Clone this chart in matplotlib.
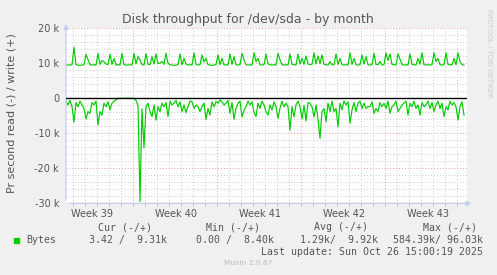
import numpy as np
import matplotlib
matplotlib.use("Agg")
import matplotlib.pyplot as plt

# ---- data (k bytes/s, 4-hour steps) ----
write_k = [9.6, 9.5, 9.5, 9.6, 14.6, 9.6, 9.5, 9.4, 9.5, 9.6,
           12.6, 11.0, 9.6, 9.5, 9.6, 9.5, 12.8, 9.7, 10.8, 10.4,
           9.8, 9.6, 12.6, 9.7, 11.4, 9.5, 9.6, 9.5, 12.8, 9.6,
           9.5, 9.5, 9.6, 9.5, 12.8, 9.8, 11.9, 11.0, 9.6, 9.5,
           12.8, 9.7, 9.6, 11.9, 9.8, 12.66, 9.9, 10.1, 10.5, 9.7,
           12.85, 10.0, 9.6, 9.5, 9.4, 9.5, 9.6, 12.66, 9.6, 11.4,
           9.8, 9.5, 9.6, 9.5, 13.0, 9.7, 9.5, 9.6, 12.4, 10.4,
           11.4, 9.6, 9.5, 9.4, 9.5, 9.6, 12.4, 9.6, 11.4, 9.5,
           9.6, 9.5, 12.66, 9.7, 11.9, 9.6, 9.5, 9.6, 12.85, 11.0,
           9.6, 9.5, 9.6, 9.5, 13.0, 10.5, 11.4, 9.6, 9.5, 9.6,
           12.66, 9.8, 9.6, 9.5, 9.6, 9.5, 12.85, 11.0, 9.6, 9.5,
           9.6, 9.5, 12.66, 9.7, 9.6, 9.5, 12.66, 9.8, 11.4, 9.7,
           12.1, 9.8, 9.6, 9.7, 13.0, 9.8, 12.1, 9.9, 12.4, 9.7,
           9.6, 9.5, 10.5, 9.6, 9.5, 12.66, 9.7, 11.4, 9.6, 9.5,
           9.6, 9.5, 13.0, 9.7, 11.4, 9.6, 9.5, 9.6, 12.4, 9.8,
           11.9, 9.6, 9.5, 9.6, 12.85, 9.7, 9.6, 10.5, 9.5, 9.6,
           13.0, 10.8, 12.66, 9.7, 9.6, 9.5, 12.66, 11.1, 9.6, 9.5,
           9.6, 9.5, 12.66, 9.7, 9.6, 9.5, 11.4, 9.8, 13.0, 9.6,
           9.5, 9.6, 9.5, 9.6, 13.0, 10.5, 11.4, 9.6, 9.5, 9.6,
           13.0, 9.7, 9.6, 9.5, 11.4, 9.6, 13.0, 10.5, 9.6, 9.5]

read_k = [0.8, 1.9, 0.6, 2.4, 6.8, 1.2, 2.4, 0.8, 1.9, 2.9,
          5.9, 3.8, 4.3, 1.2, 1.9, 0.8, 7.6, 3.8, 4.8, 1.4,
          2.4, 1.0, 3.3, 1.4, 0.8, 0.5, 0.0, 0.0, 0.0, 0.0,
          0.0, 0.0, 0.0, 0.0, 0.0, 0.6, 2.0, 29.5, 3.0, 14.1,
          2.4, 1.4, 3.8, 5.2, 1.9, 6.2, 2.4, 3.8, 1.4, 2.4,
          1.2, 5.2, 0.8, 1.9, 1.4, 0.6, 2.4, 1.0, 3.8, 1.9,
          4.1, 2.4, 0.8, 0.95, 2.9, 1.9, 2.4, 3.8, 2.4, 1.4,
          6.0, 2.9, 4.8, 1.0, 2.4, 0.95, 1.4, 0.5, 1.0, 1.9,
          1.4, 0.6, 4.3, 1.2, 6.0, 2.9, 1.4, 0.8, 5.3, 3.4,
          2.4, 0.8, 1.9, 1.0, 4.0, 5.2, 1.4, 2.9, 0.8, 1.9,
          3.8, 4.8, 1.9, 3.3, 1.0, 2.4, 5.7, 2.9, 0.8, 2.4,
          1.4, 2.4, 9.1, 2.4, 5.3, 1.9, 0.8, 2.4, 5.9, 2.0,
          6.5, 1.2, 1.4, 2.4, 5.3, 1.9, 6.0, 11.4, 3.8, 2.9,
          6.7, 1.4, 3.8, 0.8, 3.8, 2.9, 8.1, 1.4, 3.3, 0.8,
          1.9, 1.0, 7.1, 3.3, 1.2, 3.8, 1.4, 0.8, 2.9, 1.4,
          2.9, 2.4, 2.4, 1.0, 4.3, 2.9, 3.8, 1.2, 2.4, 1.4,
          2.9, 0.8, 4.3, 2.4, 1.9, 0.8, 3.8, 2.9, 1.9, 1.4,
          0.8, 4.8, 1.4, 2.4, 0.8, 2.9, 1.9, 4.8, 1.2, 2.4,
          1.9, 0.8, 2.9, 1.2, 3.8, 1.9, 0.8, 2.9, 1.4, 5.2,
          2.4, 3.3, 0.8, 1.9, 1.2, 2.4, 6.2, 2.4, 1.0, 4.8]

week_labels = ["Week 39", "Week 40", "Week 41", "Week 42", "Week 43"]
ytick_vals = [20000, 10000, 0, -10000, -20000, -30000]
ytick_labels = ["20 k", "10 k", "0", "-10 k", "-20 k", "-30 k"]

legend_name = "Bytes"
cur_txt = "3.42 /  9.31k"
min_txt = "0.00 /  8.40k"
avg_txt = "1.29k/  9.92k"
max_txt = "584.39k/ 96.03k"
last_update = "Last update: Sun Oct 26 15:00:19 2025"

hours = np.arange(len(write_k)) * 4.0
write = np.array(write_k) * 1000
read = np.array(read_k) * 1000

W, H = 497, 275
TXT = "#555555"
GREEN = "#00cc00"

fig = plt.figure(figsize=(W / 100, H / 100), dpi=100, facecolor="#f0f0f0")
ax = fig.add_axes([66 / W, 1 - 203.3 / H, 401 / W, 175 / H])
ax.set_facecolor("white")
ax.set_xlim(0, 802)
ax.set_ylim(-30000, 20000)
for s in ax.spines.values():
    s.set_visible(False)

dot = (0, (1, 2))
# horizontal grid
for y in range(-30000, 20001, 2000):
    if y == 0:
        continue
    if y % 10000 == 0:
        ax.axhline(y, color="#e8a0a0", lw=0.7, ls=dot, zorder=1)
    else:
        ax.axhline(y, color="#cccccc", lw=0.7, ls=dot, zorder=1)
# vertical grid (daily minor, weekly major)
day_lines = np.arange(14, 802, 24)
week_lines = np.arange(134, 802, 168)
for x in day_lines:
    if x in week_lines:
        ax.axvline(x, color="#e8a0a0", lw=0.7, ls=dot, zorder=1)
    else:
        ax.axvline(x, color="#cccccc", lw=0.7, ls=dot, zorder=1)

ax.plot(hours, write, color=GREEN, lw=0.85, zorder=3)
ax.plot(hours, -read, color=GREEN, lw=0.85, zorder=3)
ax.axhline(0, color="black", lw=1.0, zorder=4)

# ticks
ax.set_yticks(ytick_vals)
ax.set_yticklabels(ytick_labels)
ax.tick_params(axis="y", length=0, pad=5, labelsize=7, labelcolor=TXT)
week_pos = np.arange(52, 802, 168)[:len(week_labels)]
ax.set_xticks(week_pos)
ax.set_xticklabels(week_labels)
ax.tick_params(axis="x", length=0, pad=4, labelsize=7, labelcolor=TXT)
ax.set_xticks(day_lines, minor=True)
ax.tick_params(axis="x", which="minor", length=2, color="#bbbbbb", width=0.7)

# axis arrows
acol = "#c4ccf0"
ax.annotate("", xy=(0, 1.04), xytext=(0, 0), xycoords="axes fraction",
            arrowprops=dict(arrowstyle="-|>", color=acol, lw=0.9, mutation_scale=7),
            annotation_clip=False)
ax.annotate("", xy=(1.018, 0), xytext=(0, 0), xycoords="axes fraction",
            arrowprops=dict(arrowstyle="-|>", color=acol, lw=0.9, mutation_scale=7),
            annotation_clip=False)

def fx(x):
    return x / W

def fy(y):
    return 1 - y / H

fig.text(fx(248), fy(19), "Disk throughput for /dev/sda - by month",
         ha="center", va="center", fontsize=9, color=TXT)
fig.text(fx(12), fy(113.5), "Pr second read (-) / write (+)", rotation=90,
         ha="center", va="center", fontsize=8, color=TXT)
fig.text(fx(489), fy(53), "RRDTOOL / TOBI OETIKER", rotation=270,
         ha="center", va="center", fontsize=5.0, color="#cccccc")

mono = dict(family="DejaVu Sans Mono", fontsize=7.15, color=TXT, va="center")
fig.text(fx(151.5), fy(227.5), "Cur (-/+)", ha="right", **mono)
fig.text(fx(260.5), fy(227.5), "Min (-/+)", ha="right", **mono)
fig.text(fx(368.5), fy(227.5), "Avg (-/+)", ha="right", **mono)
fig.text(fx(477), fy(227.5), "Max (-/+)", ha="right", **mono)

fig.patches.append(plt.Rectangle((fx(14), fy(242.5)), 5 / W, 5 / H,
                                 transform=fig.transFigure, color=GREEN))
fig.text(fx(26.5), fy(239.7), legend_name, ha="left", **mono)
fig.text(fx(167), fy(239.7), cur_txt, ha="right", **mono)
fig.text(fx(273.5), fy(239.7), min_txt, ha="right", **mono)
fig.text(fx(378), fy(239.7), avg_txt, ha="right", **mono)
fig.text(fx(483), fy(239.7), max_txt, ha="right", **mono)
fig.text(fx(483), fy(251.7), last_update, ha="right", **mono)

fig.text(fx(248), fy(263.3), "Munin 2.0.67", ha="center", va="center",
         fontsize=5.3, color="#bbbbbb")

fig.savefig("out.png", dpi=100, facecolor=fig.get_facecolor())
